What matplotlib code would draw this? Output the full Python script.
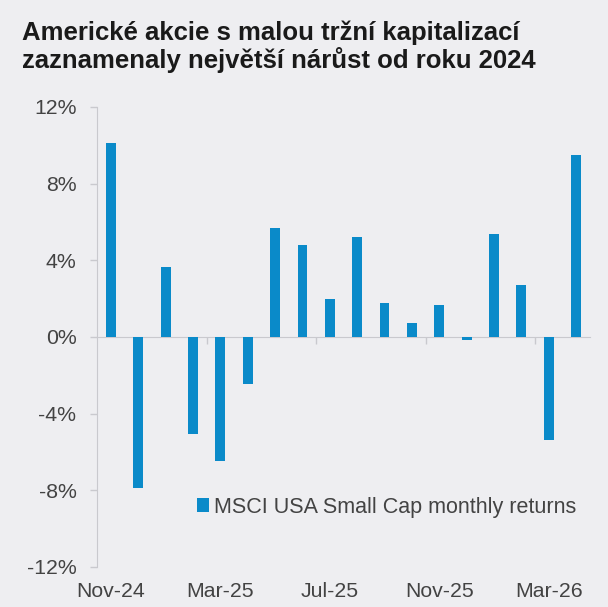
import matplotlib.pyplot as plt
import numpy as np

months = ["Nov-24", "Dec-24", "Jan-25", "Feb-25", "Mar-25", "Apr-25", "May-25", "Jun-25",
          "Jul-25", "Aug-25", "Sep-25", "Oct-25", "Nov-25", "Dec-25", "Jan-26", "Feb-26",
          "Mar-26", "Apr-26"]
returns = [10.1, -7.9, 3.65, -5.05, -6.5, -2.45, 5.7, 4.8, 2.0, 5.2, 1.75, 0.7,
           1.65, -0.15, 5.35, 2.7, -5.4, 9.5]
label_every = 4
yticks = [-12, -8, -4, 0, 4, 8, 12]

bg = '#eeeef1'
bar_color = '#0a8ac9'
axis_color = '#c9c9ce'
text_color = '#434343'

plt.rcParams['font.family'] = ['Liberation Sans', 'DejaVu Sans']

fig = plt.figure(figsize=(6.08, 6.07), dpi=100, facecolor=bg)
ax = fig.add_axes([0.16, 0.066, 0.81, 0.758], facecolor=bg)

x = np.arange(len(months))
ax.bar(x, returns, width=0.36, color=bar_color, label='MSCI USA Small Cap monthly returns', zorder=3)

ax.set_xlim(-0.5, len(months) - 0.5)
ax.set_ylim(-12, 12)
ax.set_yticks(yticks)
ax.set_yticklabels([f"{v}%" for v in yticks])
ax.tick_params(axis='y', length=5, width=1, color=axis_color, pad=10,
               labelsize=15.3, labelcolor=text_color)

for s in ['top', 'right']:
    ax.spines[s].set_visible(False)
ax.spines['left'].set_color(axis_color)
ax.spines['bottom'].set_color(axis_color)
ax.spines['bottom'].set_position(('data', 0))
ax.spines['bottom'].set_zorder(2)

# small tick marks on the zero line, between groups of months
ax.set_xticks(np.arange(-0.5, len(months), label_every)[1:])
ax.set_xticklabels([])
ax.tick_params(axis='x', length=5, width=1, color=axis_color)

sec = ax.secondary_xaxis('bottom')
sec.set_xticks(x[::label_every])
sec.set_xticklabels(months[::label_every])
sec.tick_params(length=0, pad=11, labelsize=15.3, labelcolor=text_color)
sec.spines['bottom'].set_visible(False)

leg = ax.legend(loc='center right', bbox_to_anchor=(0.99, 0.13), frameon=False,
                fontsize=15.5, handlelength=0.56, handleheight=0.56, handletextpad=0.22,
                labelcolor=text_color, borderaxespad=0)

fig.text(0.036, 0.967, "Americké akcie s malou tržní kapitalizací\nzaznamenaly největší nárůst od roku 2024",
         fontsize=18.5, fontweight='bold', color='#1a1a1a', va='top', ha='left', linespacing=1.1)

fig.savefig('out.png', dpi=100, facecolor=bg)
